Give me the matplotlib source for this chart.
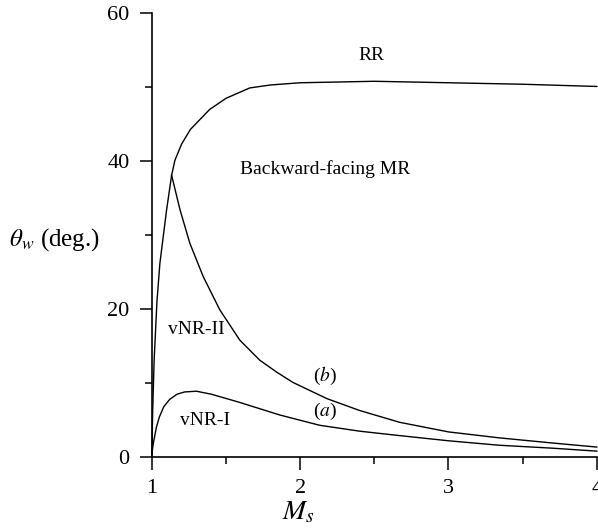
import matplotlib
matplotlib.use("Agg")
import matplotlib.pyplot as plt

plt.rcParams['font.family'] = ['Liberation Serif', 'DejaVu Serif']
plt.rcParams['mathtext.fontset'] = 'stix'

# Data
rr_ms = [1.0, 1.005, 1.015, 1.034, 1.054, 1.099, 1.133, 1.155, 1.2, 1.26, 1.39, 1.5, 1.66, 1.8, 2.0, 2.5, 3.0, 3.5, 4.0]
rr_theta = [0, 6, 13, 21, 26.2, 33.4, 38.1, 40.1, 42.3, 44.3, 47, 48.5, 49.9, 50.3, 50.6, 50.8, 50.6, 50.4, 50.1]

b_ms = [1.133, 1.19, 1.256, 1.346, 1.458, 1.593, 1.727, 1.84, 1.95, 2.18, 2.4, 2.67, 3.0, 3.34, 3.7, 4.0]
b_theta = [38.1, 33.4, 28.9, 24.4, 19.9, 15.8, 13.1, 11.5, 10.1, 7.9, 6.3, 4.7, 3.4, 2.6, 1.9, 1.35]

a_ms = [1.0, 1.01, 1.03, 1.05, 1.08, 1.12, 1.17, 1.22, 1.3, 1.4, 1.59, 1.86, 2.13, 2.4, 2.67, 3.0, 3.34, 3.7, 4.0]
a_theta = [0.5, 1.9, 4.0, 5.4, 6.8, 7.8, 8.5, 8.8, 8.9, 8.5, 7.4, 5.7, 4.3, 3.5, 2.9, 2.2, 1.6, 1.2, 0.8]

x_ticks = [1, 2, 3, 4]
y_ticks = [0, 20, 40, 60]

fig = plt.figure(figsize=(5.98, 5.29), dpi=100)
ax = fig.add_axes([0.254, 0.136, 0.744, 0.839])

for xs, ys in [(rr_ms, rr_theta), (b_ms, b_theta), (a_ms, a_theta)]:
    ax.plot(xs, ys, color='black', lw=1.0, clip_on=False)

ax.set_xlim(1, 4)
ax.set_ylim(0, 60)
ax.set_xticks(x_ticks)
ax.set_yticks(y_ticks)
ax.set_xticks([1.5, 2.5, 3.5], minor=True)
ax.set_yticks([10, 30, 50], minor=True)
ax.spines['top'].set_visible(False)
ax.spines['right'].set_visible(False)
for s in ['left', 'bottom']:
    ax.spines[s].set_linewidth(1.2)
ax.tick_params(which='major', direction='out', length=9, width=1.1, labelsize=16, pad=7)
ax.tick_params(which='minor', direction='out', length=5, width=1.1)

ax.set_xlabel(r'$M_s$', fontsize=20, va='center')
ax.xaxis.set_label_coords(0.33, -0.125)
ax.set_ylabel(r'$\theta_w$ (deg.)', fontsize=18, rotation=0, va='center', ha='center')
ax.yaxis.set_label_coords(-0.22, 0.49)

txt = dict(fontsize=14, ha='center', va='center')
ax.text(2.48, 54.3, 'RR', **txt)
ax.text(2.165, 38.9, 'Backward-facing MR', **txt)
ax.text(1.30, 17.2, 'vNR-II', **txt)
ax.text(1.36, 5.0, 'vNR-I', **txt)
ax.text(2.165, 10.9, r'($\it{b}$)', **txt)
ax.text(2.165, 6.1, r'($\it{a}$)', **txt)

fig.savefig('out.png', dpi=100)
